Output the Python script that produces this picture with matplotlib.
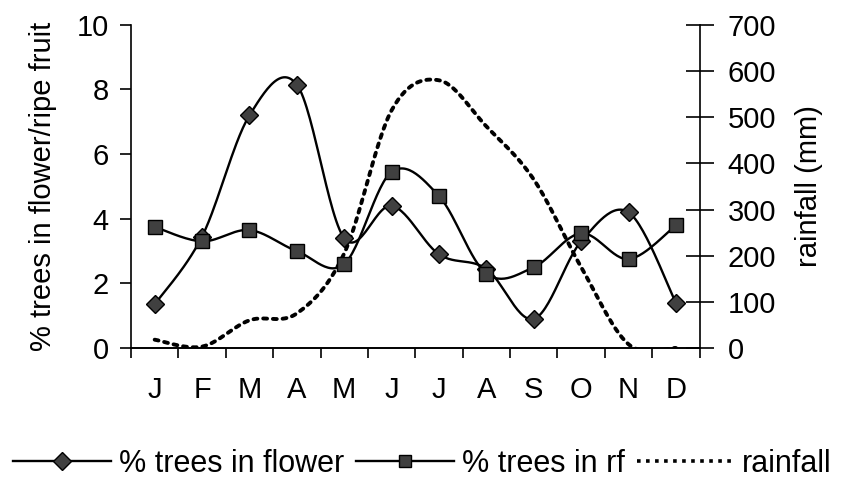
import numpy as np
import matplotlib.pyplot as plt

months = ['J', 'F', 'M', 'A', 'M', 'J', 'J', 'A', 'S', 'O', 'N', 'D']
flower = [1.35, 3.45, 7.2, 8.15, 3.4, 4.4, 2.9, 2.45, 0.9, 3.3, 4.2, 1.4]
ripe_fruit = [3.75, 3.3, 3.65, 3.0, 2.6, 5.45, 4.7, 2.3, 2.5, 3.55, 2.75, 3.8]
rainfall = [18, 3, 60, 75, 205, 515, 580, 480, 365, 175, 8, 0]

plt.rcParams['font.family'] = ['Liberation Sans', 'DejaVu Sans']


def smooth(xs, ys, sx=1.0, sy=1.0, n=30):
    # excel-style smoothed line: bezier segments with 1/6 tangents
    p = np.column_stack([np.asarray(xs, float) * sx, np.asarray(ys, float) * sy])
    pts = np.vstack([p[0], p, p[-1]])
    out = []
    t = np.linspace(0, 1, n)[:, None]
    for i in range(1, len(pts) - 2):
        p0, p3 = pts[i], pts[i + 1]
        c1 = p0 + (pts[i + 1] - pts[i - 1]) / 6
        c2 = p3 - (pts[i + 2] - pts[i]) / 6
        seg = ((1 - t) ** 3) * p0 + 3 * ((1 - t) ** 2) * t * c1 + 3 * (1 - t) * t ** 2 * c2 + t ** 3 * p3
        out.append(seg if i == 1 else seg[1:])
    out = np.vstack(out)
    return out[:, 0] / sx, out[:, 1] / sy


x = np.arange(len(months))
fig = plt.figure(figsize=(8.45, 4.83), dpi=100)
ax = fig.add_axes([0.155, 0.2795, 0.673, 0.669])
ax2 = ax.twinx()

# rainfall (right axis)
rx, ry = smooth(x, rainfall, 47.4, 32.3 / 70)
ax2.plot(rx, ry, color='black', lw=2.8, linestyle=(0, (1, 1.5)), dash_capstyle='round')
ax2.set_ylim(0, 700)
ax2.set_yticks(range(0, 701, 100))

# flower and ripe fruit (left axis)
fx, fy = smooth(x, flower, 47.4, 32.3)
ax.plot(fx, fy, color='black', lw=1.7, zorder=3)
ax.plot(x, flower, linestyle='none', marker='D', ms=9, mfc='#404040', mec='black', mew=1, zorder=4)
qx, qy = smooth(x, ripe_fruit, 47.4, 32.3)
ax.plot(qx, qy, color='black', lw=1.7, zorder=3)
ax.plot(x, ripe_fruit, linestyle='none', marker='s', ms=10, mfc='#404040', mec='black', mew=1, zorder=4)
ax.set_zorder(ax2.get_zorder() + 1)
ax.patch.set_visible(False)

ax.set_xlim(-0.5, 11.5)
ax.set_ylim(0, 10)
ax.set_yticks(range(0, 11, 2))
ax.set_xticks(np.arange(-0.5, 12, 1))
ax.set_xticklabels([])
ax.set_xticks(x, minor=True)
ax.set_xticklabels(months, minor=True)
ax.tick_params(axis='x', which='major', direction='out', length=7, width=1.2)
ax.tick_params(axis='x', which='minor', length=0, pad=20, labelsize=21)
ax.tick_params(axis='y', direction='out', length=8, width=1.2, labelsize=21, pad=8)
ax2.tick_params(axis='y', direction='inout', length=20, width=1.2, labelsize=21, pad=10)

for a in (ax, ax2):
    a.spines['top'].set_visible(False)
    for s in ('left', 'right', 'bottom'):
        a.spines[s].set_linewidth(1.2)
ax.spines['right'].set_visible(False)
ax2.spines['left'].set_visible(False)

ax.set_ylabel('% trees in flower/ripe fruit', fontsize=21, labelpad=14)
ax2.set_ylabel('rainfall (mm)', fontsize=21, labelpad=14)

h1 = plt.Line2D([], [], color='black', lw=1.7, marker='D', ms=9, mfc='#404040', mec='black')
h2 = plt.Line2D([], [], color='black', lw=1.7, marker='s', ms=9, mfc='#404040', mec='black')
h3 = plt.Line2D([], [], color='black', lw=2.6, linestyle=(0, (1, 1.5)))
fig.legend([h1, h2, h3], ['% trees in flower', '% trees in rf', 'rainfall'],
           loc='center', bbox_to_anchor=(0.5, 0.04), ncol=3, frameon=False,
           fontsize=22, handlelength=3.2, handletextpad=0.25, columnspacing=0.4,
           borderpad=0.1)

fig.savefig('out.png', dpi=100)
